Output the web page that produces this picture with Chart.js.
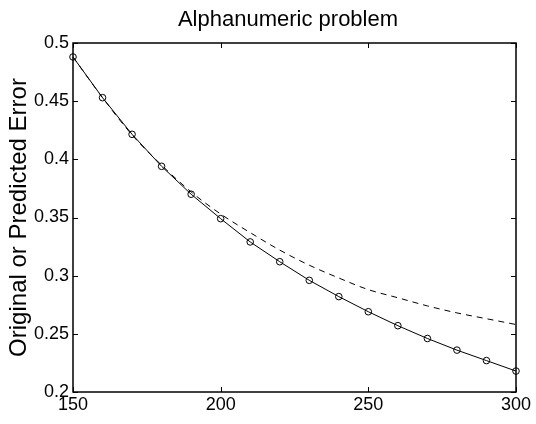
<!DOCTYPE html>
<html>
<head>
<meta charset="utf-8">
<script src="https://cdn.jsdelivr.net/npm/chart.js@4/dist/chart.umd.min.js"></script>
<style>
  html, body { margin: 0; padding: 0; background: #fff; }
  canvas { display: block; }
</style>
</head>
<body>
<canvas id="c" width="536" height="424"></canvas>
<script>
// ---- Data ----
const xValues = [150, 160, 170, 180, 190, 200, 210, 220, 230, 240, 250, 260, 270, 280, 290, 300];
const originalError = [0.488, 0.453, 0.4215, 0.394, 0.370, 0.349, 0.329, 0.312, 0.296, 0.282, 0.269, 0.257, 0.246, 0.236, 0.227, 0.218];
const predictedError = [0.488, 0.453, 0.421, 0.395, 0.372, 0.353, 0.337, 0.322, 0.309, 0.298, 0.288, 0.281, 0.274, 0.268, 0.263, 0.258];
const xTicks = [150, 200, 250, 300];
const yTicks = [0.2, 0.25, 0.3, 0.35, 0.4, 0.45, 0.5];
const titleText = 'Alphanumeric problem';
const yTitleText = 'Original or Predicted Error';

const FONT = "'Liberation Sans', Arial, Helvetica, sans-serif";

const toPoints = (xs, ys) => xs.map((x, i) => ({ x: x, y: ys[i] }));

// Frame around the plot with inward ticks on all four sides (MATLAB style)
const framePlugin = {
  id: 'frame',
  afterLayout(chart) {
    const t = chart.titleBlock;
    if (t) {
      const a = chart.chartArea;
      t.left = a.left - 13;
      t.right = a.right;
    }
  },
  afterDatasetsDraw(chart) {
    const { ctx, chartArea: a, scales } = chart;
    const tl = 5;
    ctx.save();
    ctx.strokeStyle = '#000';
    ctx.lineWidth = 1;
    ctx.beginPath();
    xTicks.forEach(v => {
      const px = Math.round(scales.x.getPixelForValue(v)) + 0.5;
      ctx.moveTo(px, a.bottom); ctx.lineTo(px, a.bottom - tl);
      ctx.moveTo(px, a.top); ctx.lineTo(px, a.top + tl);
    });
    yTicks.forEach(v => {
      const py = Math.round(scales.y.getPixelForValue(v)) + 0.5;
      ctx.moveTo(a.left, py); ctx.lineTo(a.left + tl, py);
      ctx.moveTo(a.right, py); ctx.lineTo(a.right - tl, py);
    });
    ctx.stroke();
    ctx.lineWidth = 1.5;
    ctx.strokeRect(a.left, a.top, a.right - a.left, a.bottom - a.top);
    ctx.restore();
  }
};

new Chart(document.getElementById('c'), {
  type: 'line',
  data: {
    datasets: [
      {
        label: 'Predicted',
        data: toPoints(xValues, predictedError),
        borderColor: '#000',
        borderWidth: 1,
        borderDash: [6, 5],
        pointRadius: 0,
        fill: false,
        cubicInterpolationMode: 'monotone',
        clip: false
      },
      {
        label: 'Original',
        data: toPoints(xValues, originalError),
        borderColor: '#000',
        borderWidth: 1,
        pointRadius: 3.3,
        pointBorderWidth: 1,
        pointBorderColor: '#000',
        pointBackgroundColor: 'rgba(0,0,0,0)',
        pointStyle: 'circle',
        fill: false,
        tension: 0,
        clip: false
      }
    ]
  },
  options: {
    responsive: false,
    animation: false,
    devicePixelRatio: 1,
    layout: { padding: { left: 0, right: 20, top: 0, bottom: 0 } },
    plugins: {
      legend: { display: false },
      tooltip: { enabled: false },
      title: {
        display: true,
        text: titleText,
        color: '#000',
        font: { family: FONT, size: 22, weight: 'normal' },
        padding: { top: 7, bottom: 9.6 }
      }
    },
    scales: {
      x: {
        type: 'linear',
        min: 150,
        max: 300,
        afterBuildTicks: s => { s.ticks = xTicks.map(v => ({ value: v })); },
        afterFit: s => { s.height = 32; },
        grid: { display: false, drawTicks: false },
        border: { display: false },
        ticks: {
          color: '#000',
          font: { family: FONT, size: 18 },
          padding: 2,
          maxRotation: 0,
          callback: v => String(v)
        }
      },
      y: {
        type: 'linear',
        min: 0.2,
        max: 0.5,
        afterBuildTicks: s => { s.ticks = yTicks.map(v => ({ value: v })); },
        afterFit: s => { s.width = 73; },
        grid: { display: false, drawTicks: false },
        border: { display: false },
        title: {
          display: true,
          text: yTitleText,
          color: '#000',
          font: { family: FONT, size: 24, weight: 'normal' },
          padding: { top: 5, bottom: 0 }
        },
        ticks: {
          color: '#000',
          font: { family: FONT, size: 18 },
          padding: 4,
          callback: v => String(parseFloat(Number(v).toFixed(2)))
        }
      }
    }
  },
  plugins: [framePlugin]
});
</script>
</body>
</html>
